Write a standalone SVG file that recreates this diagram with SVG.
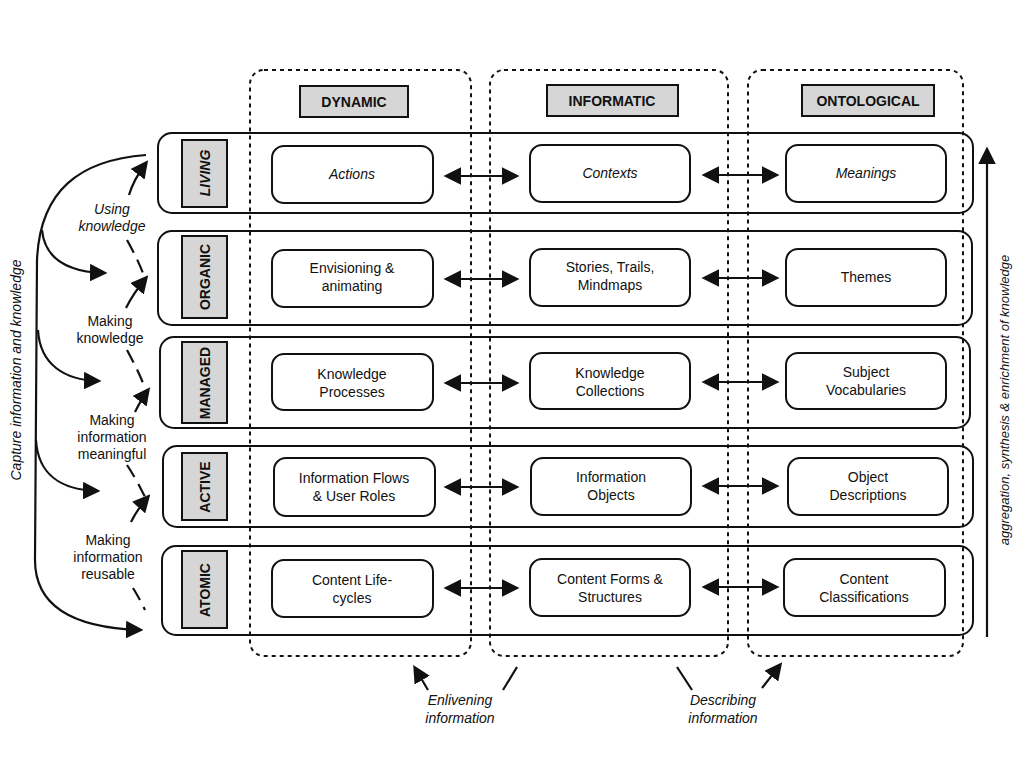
<svg xmlns="http://www.w3.org/2000/svg" width="1024" height="768" viewBox="0 0 1024 768">
<defs>
<marker id="ah" viewBox="0 0 10 10" refX="8" refY="5" markerWidth="8" markerHeight="8" orient="auto-start-reverse"><path d="M0,0 L10,5 L0,10 z" fill="#111"/></marker>
<style>
text{font-family:"Liberation Sans",Arial,sans-serif;fill:#111}
.row{fill:none;stroke:#111;stroke-width:2}
.lab{fill:#d6d6d6;stroke:#111;stroke-width:2}
.col{fill:none;stroke:#111;stroke-width:2;stroke-dasharray:4 4}
.node{fill:#fff;stroke:#111;stroke-width:2}
.t{font-size:14px;text-anchor:middle}
.i{font-style:italic}
.b{font-weight:bold;font-size:14px;text-anchor:middle}
.c{fill:none;stroke:#111;stroke-width:2.2}
.d{fill:none;stroke:#111;stroke-width:2.2;stroke-dasharray:14 8}
</style>
</defs>
<rect width="1024" height="768" fill="#fff"/>
<g id="columns">
<rect class="col" x="250" y="70" width="221" height="586" rx="14"/>
<rect class="col" x="490" y="70" width="238" height="586" rx="14"/>
<rect class="col" x="748" y="70" width="215" height="586" rx="14"/>
<rect class="lab" x="300" y="86" width="108" height="31"/><text class="b" x="354" y="107">DYNAMIC</text>
<rect class="lab" x="547" y="85" width="131" height="31"/><text class="b" x="612" y="106">INFORMATIC</text>
<rect class="lab" x="802" y="85" width="132" height="31"/><text class="b" x="868" y="106">ONTOLOGICAL</text>
</g>
<g id="rows">
<rect class="row" x="158" y="133" width="815" height="80" rx="14"/>
<rect class="row" x="158" y="231" width="814" height="94" rx="14"/>
<rect class="row" x="160" y="337" width="810" height="91" rx="14"/>
<rect class="row" x="163" y="446" width="810" height="81" rx="14"/>
<rect class="row" x="162" y="546" width="811" height="89" rx="14"/>
<rect class="lab" x="182" y="140" width="45" height="67"/><text class="b i" transform="translate(210,173) rotate(-90)">LIVING</text>
<rect class="lab" x="182" y="236" width="45" height="82"/><text class="b" transform="translate(210,277) rotate(-90)">ORGANIC</text>
<rect class="lab" x="182" y="342" width="45" height="81"/><text class="b" transform="translate(210,383) rotate(-90)">MANAGED</text>
<rect class="lab" x="182" y="453" width="45" height="67"/><text class="b" transform="translate(210,487) rotate(-90)">ACTIVE</text>
<rect class="lab" x="182" y="551" width="45" height="77"/><text class="b" transform="translate(210,590) rotate(-90)">ATOMIC</text>
</g>
<g id="nodes">
<g id="n-actions"><rect class="node" x="272" y="146" width="161" height="57" rx="12"/><text class="t i" x="352" y="179">Actions</text></g>
<g id="n-contexts"><rect class="node" x="530" y="145" width="160" height="57" rx="12"/><text class="t i" x="610" y="178">Contexts</text></g>
<g id="n-meanings"><rect class="node" x="786" y="145" width="160" height="57" rx="12"/><text class="t i" x="866" y="178">Meanings</text></g>
<g id="n-env"><rect class="node" x="272" y="250" width="161" height="57" rx="12"/><text class="t" x="352" y="273">Envisioning &amp;</text><text class="t" x="352" y="291">animating</text></g>
<g id="n-stories"><rect class="node" x="530" y="249" width="160" height="57" rx="12"/><text class="t" x="610" y="272">Stories, Trails,</text><text class="t" x="610" y="290">Mindmaps</text></g>
<g id="n-themes"><rect class="node" x="786" y="249" width="160" height="57" rx="12"/><text class="t" x="866" y="282">Themes</text></g>
<g id="n-kp"><rect class="node" x="272" y="354" width="161" height="56" rx="12"/><text class="t" x="352" y="379">Knowledge</text><text class="t" x="352" y="397">Processes</text></g>
<g id="n-kc"><rect class="node" x="530" y="353" width="160" height="56" rx="12"/><text class="t" x="610" y="378">Knowledge</text><text class="t" x="610" y="396">Collections</text></g>
<g id="n-sv"><rect class="node" x="786" y="353" width="160" height="56" rx="12"/><text class="t" x="866" y="377">Subject</text><text class="t" x="866" y="395">Vocabularies</text></g>
<g id="n-if"><rect class="node" x="274" y="458" width="161" height="58" rx="12"/><text class="t" x="354" y="483">Information Flows</text><text class="t" x="354" y="501">&amp; User Roles</text></g>
<g id="n-io"><rect class="node" x="531" y="458" width="160" height="57" rx="12"/><text class="t" x="611" y="482">Information</text><text class="t" x="611" y="500">Objects</text></g>
<g id="n-od"><rect class="node" x="788" y="458" width="160" height="57" rx="12"/><text class="t" x="868" y="482">Object</text><text class="t" x="868" y="500">Descriptions</text></g>
<g id="n-cl"><rect class="node" x="272" y="560" width="161" height="57" rx="12"/><text class="t" x="352" y="585">Content Life-</text><text class="t" x="352" y="603">cycles</text></g>
<g id="n-cf"><rect class="node" x="530" y="559" width="160" height="57" rx="12"/><text class="t" x="610" y="584">Content Forms &amp;</text><text class="t" x="610" y="602">Structures</text></g>
<g id="n-cc"><rect class="node" x="784" y="559" width="161" height="57" rx="12"/><text class="t" x="864" y="584">Content</text><text class="t" x="864" y="602">Classifications</text></g>
</g>
<g id="connectors">
<path class="c" d="M447,176 H516" marker-start="url(#ah)" marker-end="url(#ah)"/>
<path class="c" d="M705,175 H776" marker-start="url(#ah)" marker-end="url(#ah)"/>
<path class="c" d="M447,279 H516" marker-start="url(#ah)" marker-end="url(#ah)"/>
<path class="c" d="M705,278 H776" marker-start="url(#ah)" marker-end="url(#ah)"/>
<path class="c" d="M447,383 H516" marker-start="url(#ah)" marker-end="url(#ah)"/>
<path class="c" d="M705,382 H776" marker-start="url(#ah)" marker-end="url(#ah)"/>
<path class="c" d="M447,487 H516" marker-start="url(#ah)" marker-end="url(#ah)"/>
<path class="c" d="M705,486 H776" marker-start="url(#ah)" marker-end="url(#ah)"/>
<path class="c" d="M447,588 H516" marker-start="url(#ah)" marker-end="url(#ah)"/>
<path class="c" d="M705,587 H776" marker-start="url(#ah)" marker-end="url(#ah)"/>
<path class="c" d="M146,155 C80,160 40,190 37,260 L35,560 C35,610 80,628 140,630" marker-end="url(#ah)"/>
<path class="c" d="M42,230 C45,260 70,272 104,273" marker-end="url(#ah)"/>
<path class="c" d="M38,330 C40,365 65,380 98,381" marker-end="url(#ah)"/>
<path class="c" d="M36,440 C38,475 62,490 97,491" marker-end="url(#ah)"/>
<path class="c" d="M129,195 C132,185 137,175 146,163" marker-end="url(#ah)"/>
<path class="d" d="M127,240 C135,255 142,268 145,280"/>
<path class="c" d="M126,308 C130,300 136,290 146,278" marker-end="url(#ah)"/>
<path class="d" d="M127,350 C135,365 140,375 145,388"/>
<path class="c" d="M135,412 C138,406 142,398 148,390" marker-end="url(#ah)"/>
<path class="d" d="M127,465 C135,477 140,487 145,497"/>
<path class="c" d="M131,522 C135,514 140,506 148,497" marker-end="url(#ah)"/>
<path class="d" d="M133,588 C138,596 141,602 145,610"/>
<path class="c" d="M987,637 V150" marker-end="url(#ah)"/>
<path class="c" d="M428,690 L415,668" marker-end="url(#ah)"/>
<path class="c" d="M503,690 L517,667"/>
<path class="c" d="M692,690 L677,667"/>
<path class="c" d="M762,688 L780,665" marker-end="url(#ah)"/>
</g>
<g id="labels">
<text class="t i" x="112" y="214">Using</text><text class="t i" x="112" y="231">knowledge</text>
<text class="t" x="110" y="326">Making</text><text class="t" x="110" y="343">knowledge</text>
<text class="t" x="112" y="425">Making</text><text class="t" x="112" y="442">information</text><text class="t" x="112" y="459">meaningful</text>
<text class="t" x="108" y="545">Making</text><text class="t" x="108" y="562">information</text><text class="t" x="108" y="579">reusable</text>
<text class="t i" x="460" y="705">Enlivening</text><text class="t i" x="460" y="723">information</text>
<text class="t i" x="723" y="705">Describing</text><text class="t i" x="723" y="723">information</text>
<text class="t i" transform="translate(21,370) rotate(-90)">Capture information and knowledge</text>
<text class="t i" style="font-size:13px" transform="translate(1009,400) rotate(-90)">aggregation, synthesis &amp; enrichment of knowledge</text>
</g>
</svg>
